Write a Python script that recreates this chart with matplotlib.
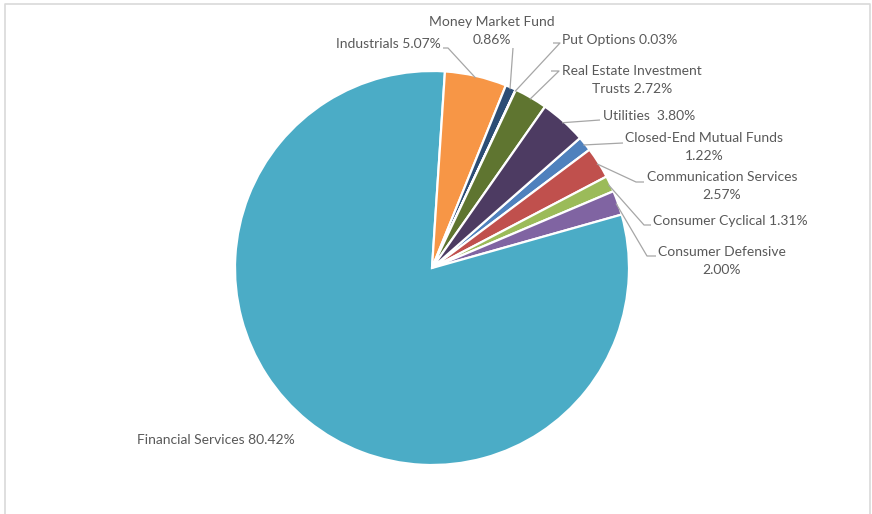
import numpy as np
import matplotlib
matplotlib.use("Agg")
import matplotlib.pyplot as plt
from matplotlib.lines import Line2D

# sector weights (%) - alphabetical, like the source workbook
sectors = ["Closed-End Mutual Funds", "Communication Services", "Consumer Cyclical",
           "Consumer Defensive", "Financial Services", "Industrials",
           "Money Market Fund", "Put Options", "Real Estate Investment Trusts", "Utilities"]
weights = [1.22, 2.57, 1.31, 2.00, 80.42, 5.07, 0.86, 0.03, 2.72, 3.80]
colors = ["#4F81BD", "#C0504D", "#9BBB59", "#8064A2", "#4BACC6", "#F79646",
          "#2C4D75", "#772C2A", "#5F7530", "#4D3B62"]

# label text as shown on the chart
label_text = {
    "Closed-End Mutual Funds": "Closed-End Mutual Funds\n1.22%",
    "Communication Services": "Communication Services\n2.57%",
    "Consumer Cyclical": "Consumer Cyclical 1.31%",
    "Consumer Defensive": "Consumer Defensive\n2.00%",
    "Financial Services": "Financial Services 80.42%",
    "Industrials": "Industrials 5.07%",
    "Money Market Fund": "Money Market Fund\n0.86%",
    "Put Options": "Put Options 0.03%",
    "Real Estate Investment Trusts": "Real Estate Investment\nTrusts 2.72%",
    "Utilities": "Utilities  3.80%",
}

W, H = 872, 514
CX, CY, R = 432, 268, 197  # pie centre / radius in pixels


def px(x, y):
    return (x - CX) / R, (CY - y) / R


# label placement in pixels: text anchor, ha, leader path (None = no leader)
layout = {
    "Industrials": ((441, 44), "right", [(448, 48), (443, 48)]),
    "Money Market Fund": ((492, 31), "center", [(513, 48)]),
    "Put Options": ((562, 40), "left", [(560, 43), (553, 43)]),
    "Real Estate Investment Trusts": ((632, 80), "center", [(559, 71), (551, 71)]),
    "Utilities": ((603, 116), "left", [(600, 120)]),
    "Closed-End Mutual Funds": ((704, 147), "center", [(623, 143)]),
    "Communication Services": ((722, 186), "center", [(636, 182), (644, 182)]),
    "Consumer Cyclical": ((653, 221), "left", [(644, 225), (651, 225)]),
    "Consumer Defensive": ((722, 261), "center", [(647, 256), (656, 256)]),
    "Financial Services": ((137, 440), "left", None),
}

plt.rcParams["font.family"] = ["Lato", "DejaVu Sans"]

fig = plt.figure(figsize=(W / 100, H / 100), dpi=100)
ax = fig.add_axes([0, 0, 1, 1])

wedges, _ = ax.pie(weights, colors=colors, startangle=90 - 48.7, counterclock=False,
                   radius=1, center=(0, 0),
                   wedgeprops=dict(edgecolor="white", linewidth=1.6))

text_color = "#595959"
line_color = "#A6A6A6"
for name, w in zip(sectors, wedges):
    (tx, ty), ha, path = layout[name]
    x, y = px(tx, ty)
    ax.text(x, y, label_text[name], ha=ha, va="center", fontsize=10,
            color=text_color, linespacing=1.55)
    if path:
        mid = np.deg2rad((w.theta1 + w.theta2) / 2)
        xs = [np.cos(mid) * 0.99] + [px(*p)[0] for p in path]
        ys = [np.sin(mid) * 0.99] + [px(*p)[1] for p in path]
        ax.plot(xs, ys, color=line_color, lw=0.9, solid_capstyle="butt")

ax.set_xlim(-CX / R, (W - CX) / R)
ax.set_ylim((CY - H) / R, CY / R)
ax.set_aspect("auto")
ax.axis("off")

# chart area border
fig.add_artist(Line2D([4.5 / W, 4.5 / W, 869.5 / W, 869.5 / W],
                      [0, 1 - 3.5 / H, 1 - 3.5 / H, 0],
                      transform=fig.transFigure, color="#D9D9D9", lw=1.2))

fig.savefig("out.png", dpi=100, facecolor="white")
